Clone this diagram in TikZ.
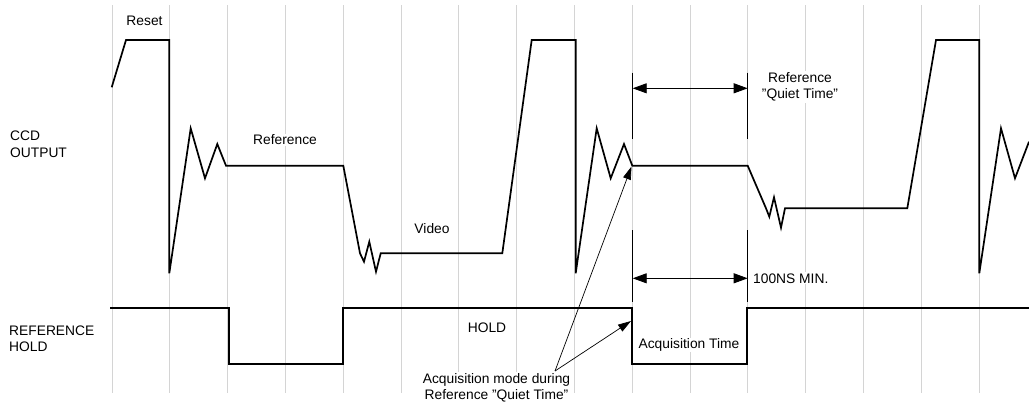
\documentclass[tikz,border=0pt]{standalone}
\usepackage{fontspec}
\setmainfont{Liberation Sans}
\usetikzlibrary{arrows.meta}
\begin{document}
\begin{tikzpicture}[x=1pt,y=-1pt,
  gridline/.style={draw=black!17, line width=0.9pt},
  wave/.style={line width=1.7pt, line join=miter},
  dimtick/.style={line width=1.2pt},
  dimarrow/.style={line width=0.9pt, {Triangle[length=14pt,width=10pt]}-{Triangle[length=14pt,width=10pt]}},
  annarrow/.style={line width=0.7pt, -{Triangle[length=13pt,width=8pt]}},
  lbl/.style={font=\fontsize{13.8}{16.5}\selectfont, inner sep=1pt, fill=white}
]
\useasboundingbox (0,0) rectangle (1029,405);
% grid
\foreach \k in {0,...,15} \draw[gridline] ({112+57.8*\k},5) -- ({112+57.8*\k},393);
% labels
\node[lbl, align=left, anchor=west] (ccd) at (9,144) {CCD\\OUTPUT};
\node[lbl, align=left, anchor=west] (rh) at (8,338.5) {REFERENCE\\HOLD};
\node[lbl] (reset) at (144.5,21) {Reset};
\node[lbl] (refl) at (285,140) {Reference};
\node[lbl] (video) at (432,229) {Video};
\node[lbl] (hold) at (487,328) {HOLD};
\node[lbl] (acq) at (689,345) {Acquisition Time};
\node[lbl, align=center] (qt) at (800,87) {Reference\\"Quiet Time"};
\node[lbl, anchor=west] (ns) at (752,278.3) {100NS MIN.};
\node[lbl, align=center] (am) at (496.5,388) {Acquisition mode during\\Reference "Quiet Time"};
% CCD output waveform
\draw[wave] (111.7,87.3) -- (126,40) -- (169.3,40) -- (169.3,273.3) -- (190.7,128.3) -- (205,178.3) -- (217.3,144) -- (226,165.7) -- (343.3,165.7) -- (360,253.3) -- (364,261.7) -- (369.3,241.7) -- (376,271.7) -- (380.7,253.3) -- (502.3,253.3) -- (531.7,40) -- (575.7,40) -- (575.7,273.3) -- (596.7,128.3) -- (610.7,178.3) -- (624,144) -- (632.3,165.7) -- (747.7,165.7) -- (766,208.3) -- (769.3,216.7) -- (774,197.3) -- (781,227.7) -- (785,208.3) -- (907.3,208.3) -- (936,40) -- (979.3,40) -- (979.3,273.3) -- (1001,128.3) -- (1015,178.3) -- (1029,141.7);
% reference hold waveform
\draw[wave] (110,308.3) -- (229,308.3) -- (229,364) -- (342.7,364) -- (342.7,308.3) -- (631.7,308.3) -- (631.7,364) -- (746.7,364) -- (746.7,308.3) -- (1029,308.3);
% dimension: quiet time
\coordinate (qa1) at (632.7,72.7); \coordinate (qa2) at (632.7,139.3);
\coordinate (qb1) at (747.7,72.7); \coordinate (qb2) at (747.7,139.3);
\coordinate (qal) at (632.7,88.3); \coordinate (qbl) at (747.7,88.3);
\draw[dimtick] (qa1) -- (qa2);
\draw[dimtick] (qb1) -- (qb2);
\draw[dimarrow] (qal) -- (qbl);
% dimension: 100ns
\coordinate (na1) at (632.7,230); \coordinate (na2) at (632.7,302);
\coordinate (nb1) at (747.7,230); \coordinate (nb2) at (747.7,302);
\coordinate (nal) at (632.7,278.3); \coordinate (nbl) at (747.7,278.3);
\draw[dimtick] (na1) -- (na2);
\draw[dimtick] (nb1) -- (nb2);
\draw[dimarrow] (nal) -- (nbl);
% annotation arrows
\coordinate (amtip) at (555,371);
\coordinate (junction) at (631.5,166.5);
\coordinate (holdedge) at (631,321);
\draw[annarrow] (amtip) -- (junction);
\draw[annarrow] (amtip) -- (holdedge);
\end{tikzpicture}
\end{document}
